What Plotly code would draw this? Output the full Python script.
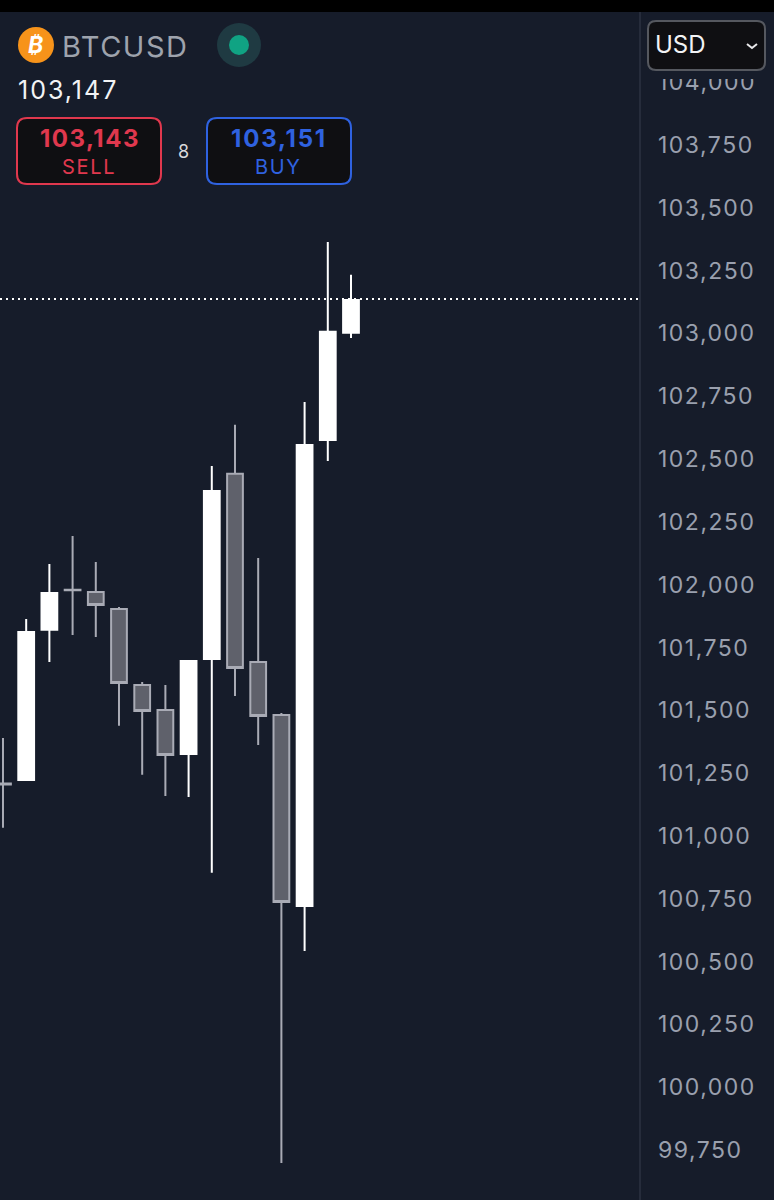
import plotly.graph_objects as go

W, H = 774, 1200

candle_idx = list(range(16))
opens = [101209, 101223, 101820, 101980, 101971, 101903, 101601, 101501, 101326, 101704, 102441, 101692, 101481, 100721, 102576, 103002]
highs = [101390, 101863, 102082, 102194, 102090, 101911, 101613, 101601, 101696, 102472, 102636, 102106, 101489, 102727, 103364, 103233]
lows = [101032, 101223, 101692, 101800, 101792, 101438, 101243, 101159, 101155, 100853, 101557, 101362, 99698, 100542, 102492, 102982]
closes = [101205, 101812, 101967, 101978, 101919, 101609, 101497, 101322, 101696, 102373, 101668, 101477, 100737, 102556, 103006, 103133]

tick_vals = [104000, 103750, 103500, 103250, 103000, 102750, 102500, 102250, 102000,
             101750, 101500, 101250, 101000, 100750, 100500, 100250, 100000, 99750]
last_line = 103137

BG = "#161c2a"
FONT = "Inter"


def px(x):
    return x / W


def py(y):
    return 1 - y / H


def rect(x0, y0, x1, y1, fill, line=None, lw=0):
    return dict(type="rect", xref="paper", yref="paper", x0=px(x0), x1=px(x1), y0=py(y0), y1=py(y1),
                fillcolor=fill, line=dict(color=line or fill, width=lw), layer="above")


def circle(cx, cy, r, fill):
    return dict(type="circle", xref="paper", yref="paper", x0=px(cx - r), x1=px(cx + r), y0=py(cy - r), y1=py(cy + r),
                fillcolor=fill, line=dict(width=0), layer="above")


def round_box(x0, y0, x1, y1, r, fill, line, lw=2):
    # rounded rectangle as an svg path, paper coords
    p = lambda x, y: f"{px(x)},{py(y)}"
    path = (f"M {p(x0 + r, y0)} L {p(x1 - r, y0)} Q {p(x1, y0)} {p(x1, y0 + r)} "
            f"L {p(x1, y1 - r)} Q {p(x1, y1)} {p(x1 - r, y1)} "
            f"L {p(x0 + r, y1)} Q {p(x0, y1)} {p(x0, y1 - r)} "
            f"L {p(x0, y0 + r)} Q {p(x0, y0)} {p(x0 + r, y0)} Z")
    return dict(type="path", xref="paper", yref="paper", path=path, fillcolor=fill,
                line=dict(color=line, width=lw), layer="above")


def spaced(text, gap):
    return f'<span style="letter-spacing:{gap}px">{text}</span>'


def label(x, y, text, size, color, anchor="left", bold=False, gap=0):
    if bold:
        text = f"<b>{text}</b>"
    if gap:
        text = spaced(text, gap)
    return dict(xref="paper", yref="paper", x=px(x), y=py(y), text=text,
                showarrow=False, xanchor=anchor, yanchor="middle",
                font=dict(family=FONT, size=size, color=color))


fig = go.Figure(go.Candlestick(
    x=candle_idx, open=opens, high=highs, low=lows, close=closes,
    increasing=dict(line=dict(color="#ffffff", width=2), fillcolor="#ffffff"),
    decreasing=dict(line=dict(color="#a9abb5", width=2), fillcolor="#5f616b"),
    whiskerwidth=0, showlegend=False, hoverinfo="skip",
))

shapes = [
    # last price line
    dict(type="line", xref="x domain", yref="y", x0=0, x1=1, y0=last_line, y1=last_line,
         line=dict(color="#ffffff", width=2, dash="2px,4px"), layer="above"),
    # axis divider
    dict(type="line", xref="paper", yref="paper", x0=px(640), x1=px(640), y0=0, y1=py(12),
         line=dict(color="#2c3242", width=1.5), layer="above"),
    # top label gets cut off under the currency box
    rect(641, 12, 774, 79, BG),
    rect(0, 0, 774, 12, "#000000"),
    circle(36, 45, 18, "#f7931a"),
    circle(239, 45, 22, "#1f3a42"),
    circle(239, 45, 10, "#10a383"),
    round_box(17, 118, 161, 184, 10, "#0f0f12", "#e0384e"),
    round_box(207, 118, 351, 184, 10, "#0f0f12", "#2f62e0"),
    round_box(648, 21, 765, 70, 8, "#0f0f12", "#55585f"),
    dict(type="path", xref="paper", yref="paper",
         path=f"M {px(747)},{py(44)} L {px(752)},{py(48)} L {px(757)},{py(44)}",
         line=dict(color="#e8e8ea", width=2), layer="above"),
]

annotations = [
    label(36, 45, "<i>₿</i>", 23, "#ffffff", "center", True),
    label(60, 46, "BTCUSD", 29, "#9ea3ad", gap=1.5),
    label(16, 90, "103,147", 25, "#f2f3f5", gap=2),
    label(90, 138, "103,143", 24, "#e0384e", "center", True, gap=1.5),
    label(89, 167, "SELL", 20, "#e0384e", "center", gap=1.7),
    label(183, 151, "8", 18, "#d8d9dc", "center"),
    label(279, 138, "103,151", 24, "#2f62e0", "center", True, gap=1.8),
    label(278, 167, "BUY", 20, "#2f62e0", "center", gap=1.7),
    label(653, 45, "USD", 24, "#f2f3f5"),
]

fig.update_layout(
    width=W, height=H,
    margin=dict(l=0, r=0, t=0, b=0),
    paper_bgcolor=BG, plot_bgcolor=BG,
    boxgap=0.32, boxgroupgap=0,
    shapes=shapes, annotations=annotations,
    xaxis=dict(domain=[0, 640 / W], range=[-0.129, 27.457], visible=False,
               rangeslider=dict(visible=False), fixedrange=True),
    yaxis=dict(domain=[0, 1188 / H], range=[99551, 104279], side="right", anchor="x",
               tickmode="array", tickvals=tick_vals, ticktext=[spaced(f"{v:,}", 1.5) for v in tick_vals],
               showgrid=False, zeroline=False, showline=False, ticks="",
               ticklabelstandoff=17, fixedrange=True,
               tickfont=dict(family=FONT, size=23, color="#9aa0ae")),
)

fig.write_html("out.html", config=dict(displayModeBar=False), post_script="document.body.style.margin='0';")
